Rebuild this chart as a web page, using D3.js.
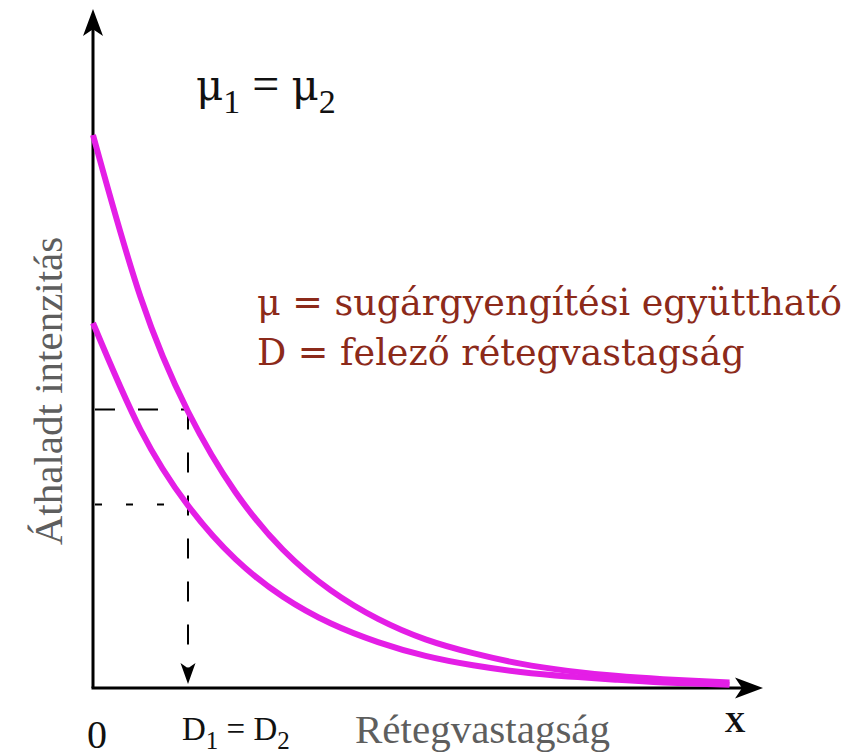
<!DOCTYPE html>
<html>
<head>
<meta charset="utf-8">
<script src="https://cdn.jsdelivr.net/npm/d3@7"></script>
<style>
	html, body { margin: 0; padding: 0; background: #fff; }
	svg { display: block; font-family: "Liberation Serif", "Times New Roman", serif; }
</style>
</head>
<body>
<svg id="chart" width="866" height="756"></svg>
<script>
// thickness in half-value layers (D)
const thickness = [0, 0.5, 1, 1.5, 2, 2.5, 3, 3.5, 4, 4.5, 5, 5.5, 6, 6.7];
// transmitted intensity, two beams with the same attenuation coefficient
const intensity1 = [100, 70.7, 50, 35.4, 25, 17.7, 12.5, 8.8, 6.3, 4.4, 3.1, 2.2, 1.6, 1];
const intensity2 = [66, 46.7, 33, 23.3, 16.5, 11.7, 8.3, 5.8, 4.1, 2.9, 2.1, 1.5, 1, 0.6];
// half-value thickness and the halved intensities
const halfThickness = 1,
	halfLevels = [50, 33];

const legendLines = ['μ = sugárgyengítési együttható', 'D = felező rétegvastagság'];

const svg = d3.select('#chart');

const x = d3.scaleLinear().domain([0, 7]).range([93, 758]),
	y = d3.scaleLinear().domain([0, 100]).range([688, 135]);

const MAGENTA = '#e41ee6',
	DARKRED = '#8c2a1a',
	GREY = '#5e5e5e';

// axes
svg.append('line')
	.attr('x1', x(0)).attr('y1', y(0))
	.attr('x2', x(0)).attr('y2', y(120))
	.attr('stroke', '#000').attr('stroke-width', 3);
svg.append('line')
	.attr('x1', x(0) - 1.5).attr('y1', y(0))
	.attr('x2', x(6.9)).attr('y2', y(0))
	.attr('stroke', '#000').attr('stroke-width', 3);

// arrow heads, tip at (tx, ty), pointing in direction (dx, dy)
function arrowHead(tx, ty, dx, dy, len, half) {
	const px = -dy, py = dx;
	const bx = tx - dx * len, by = ty - dy * len;
	const nx = tx - dx * len * 0.75, ny = ty - dy * len * 0.75;
	svg.append('path')
		.attr('d', `M${tx},${ty}L${bx + px * half},${by + py * half}L${nx},${ny}L${bx - px * half},${by - py * half}Z`)
		.attr('fill', '#000');
}
arrowHead(x(0), 9, 0, -1, 27, 10);
arrowHead(763, y(0), 1, 0, 28, 10.5);

// dashed guides
svg.append('line')
	.attr('x1', x(0) + 2).attr('y1', y(halfLevels[0]) - 2)
	.attr('x2', x(halfThickness)).attr('y2', y(halfLevels[0]) - 2)
	.attr('stroke', '#000').attr('stroke-width', 2)
	.attr('stroke-dasharray', '20 23');
svg.append('line')
	.attr('x1', x(0) + 2).attr('y1', y(halfLevels[1]) - 1)
	.attr('x2', x(halfThickness)).attr('y2', y(halfLevels[1]) - 1)
	.attr('stroke', '#000').attr('stroke-width', 2)
	.attr('stroke-dasharray', '7 24');
svg.append('line')
	.attr('x1', x(halfThickness)).attr('y1', y(halfLevels[0]) - 2)
	.attr('x2', x(halfThickness)).attr('y2', y(0) - 18)
	.attr('stroke', '#000').attr('stroke-width', 2)
	.attr('stroke-dasharray', '20 23');
arrowHead(x(halfThickness), y(0) - 4, 0, 1, 21, 7.5);

// curves
const line = d3.line()
	.x((d, i) => x(thickness[i]))
	.y(d => y(d))
	.curve(d3.curveNatural);

[intensity1, intensity2].forEach(series => {
	svg.append('path')
		.datum(series)
		.attr('d', line)
		.attr('fill', 'none')
		.attr('stroke', MAGENTA)
		.attr('stroke-width', 6);
});

// mu_1 = mu_2
const mu = svg.append('text')
	.attr('x', 196).attr('y', 100)
	.attr('font-size', 48).attr('fill', '#111');
mu.append('tspan').attr('font-family', '"DejaVu Serif", serif').attr('font-size', 42).text('μ');
mu.append('tspan').attr('font-size', 34).attr('dy', 13).text('1');
mu.append('tspan').attr('dy', -13).text(' = ');
mu.append('tspan').attr('font-family', '"DejaVu Serif", serif').attr('font-size', 42).text('μ');
mu.append('tspan').attr('font-size', 34).attr('dy', 13).text('2');

// legend
svg.selectAll('.legend')
	.data(legendLines)
	.enter().append('text')
	.attr('class', 'legend')
	.attr('x', 257)
	.attr('y', (d, i) => 315 + i * 50)
	.attr('font-family', '"DejaVu Serif", serif')
	.attr('font-size', 36.5)
	.attr('fill', DARKRED)
	.text(d => d);

// axis titles
svg.append('text')
	.attr('transform', 'translate(62,391) rotate(-90)')
	.attr('text-anchor', 'middle')
	.attr('font-size', 41)
	.attr('fill', GREY)
	.text('Áthaladt intenzitás');
svg.append('text')
	.attr('x', 355).attr('y', 743)
	.attr('font-size', 41)
	.attr('fill', GREY)
	.text('Rétegvastagság');

// bottom labels
svg.append('text')
	.attr('x', x(0) + 4).attr('y', 748)
	.attr('text-anchor', 'middle')
	.attr('font-size', 40)
	.attr('fill', '#111')
	.text('0');

const dd = svg.append('text')
	.attr('x', 182).attr('y', 740)
	.attr('font-size', 33).attr('fill', '#111');
dd.append('tspan').text('D');
dd.append('tspan').attr('font-size', 25).attr('dy', 9).text('1');
dd.append('tspan').attr('dy', -9).text(' = D');
dd.append('tspan').attr('font-size', 25).attr('dy', 9).text('2');

svg.append('text')
	.attr('x', 735).attr('y', 732)
	.attr('text-anchor', 'middle')
	.attr('font-size', 29)
	.attr('font-weight', 'bold')
	.attr('fill', '#111')
	.text('X');
</script>
</body>
</html>
